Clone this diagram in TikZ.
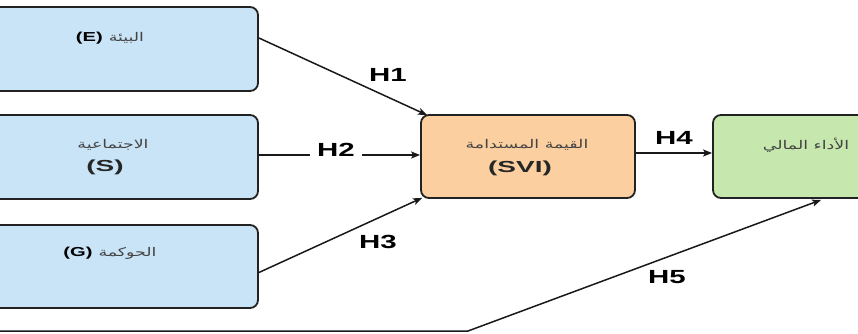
\documentclass[tikz,border=0pt]{standalone}
\usepackage{fontspec}
\setmainfont{Liberation Sans}
\newfontfamily\latinwide[FakeStretch=1.55]{Liberation Sans}
\newfontfamily\latinwider[FakeStretch=1.75]{Liberation Sans}
\newfontfamily\arabicfont[Script=Arabic,FakeStretch=1.45]{DejaVu Sans}
\TeXXeTstate=1
\usetikzlibrary{arrows.meta,calc}

\definecolor{boxline}{HTML}{222222}
\definecolor{boxblue}{HTML}{C9E4F6}
\definecolor{boxorange}{HTML}{FBCF9F}
\definecolor{boxgreen}{HTML}{C6E7AE}
\definecolor{txtgray}{HTML}{444444}

\tikzset{
  box/.style={draw=boxline, line width=1.8pt, rounded corners=8pt, inner sep=0pt},
  bluebox/.style={box, fill=boxblue},
  orangebox/.style={box, fill=boxorange},
  greenbox/.style={box, fill=boxgreen},
  hyp/.style={font=\latinwide\bfseries\fontsize{19}{19}\selectfont, inner sep=1pt},
  artext/.style={font=\arabicfont\fontsize{12}{14}\selectfont, text=txtgray, inner sep=0pt},
  code/.style={font=\latinwider\bfseries\fontsize{16}{16}\selectfont, text=black!85, inner sep=0pt},
  conn/.style={line width=1.5pt, draw=black!90, -{Stealth[length=9pt,width=7pt,inset=2pt]}}
}

\begin{document}
\begin{tikzpicture}[x=1pt,y=-1pt]
\useasboundingbox (0,0) rectangle (858,334);

% dimension boxes (cut by the left edge) and the two outcome boxes
\node[bluebox, minimum width=280pt, minimum height=84pt] (E) at (118,49) {};
\node[bluebox, minimum width=280pt, minimum height=84pt] (S) at (118,157) {};
\node[bluebox, minimum width=280pt, minimum height=83pt] (G) at (118,266.5) {};
\node[orangebox, minimum width=214pt, minimum height=83pt] (SVI) at (528,156.5) {};
\node[greenbox, minimum width=167pt, minimum height=83pt] (GR) at (796.5,156.5) {};

% box texts
\node (Etxt) at (110,38) {{\latinwide\bfseries\fontsize{13}{13}\selectfont (E)}\hspace{6pt}{\arabicfont\fontsize{12}{14}\selectfont\color{txtgray}\beginR البيئة\endR}};
\node[artext] (Sar) at (113,145) {\beginR الاجتماعية\endR};
\node[code] (Scode) at (105,167) {(S)};
\node (Gtxt) at (110,253) {{\latinwide\bfseries\fontsize{13}{13}\selectfont (G)}\hspace{6pt}{\arabicfont\fontsize{12}{14}\selectfont\color{txtgray}\beginR الحوكمة\endR}};
\node[artext] (SVIar) at (527,145) {\beginR القيمة المستدامة\endR};
\node[code] (SVIcode) at (520,168) {(SVI)};
\node[artext] (GRar) at (806,145) {\beginR الأداء المالي\endR};

% hypothesised paths
\draw[conn] ([yshift=11pt]E.east) -- ([xshift=7pt,yshift=-1pt]SVI.north west);
\draw[conn] ([yshift=2pt]S.east) coordinate (s2) -- (s2 -| SVI.west);
\draw[conn] ([yshift=-6pt]G.east) -- ([xshift=2pt,yshift=1pt]SVI.south west);
\draw[conn] ([yshift=3.5pt]SVI.east) coordinate (s4) -- (s4 -| GR.west);
\coordinate (h5start) at (-5,331);
\coordinate (h5bend) at (468,331);
\draw[conn] (h5start) -- (h5bend) -- ([xshift=109pt,yshift=-1pt]GR.south west);

% path labels
\node[hyp] (H1) at (388,75) {H1};
\node[hyp, fill=white, inner xsep=7pt] (H2) at (336,150) {H2};
\node[hyp] (H3) at (378,242) {H3};
\node[hyp] (H4) at (674,138) {H4};
\node[hyp] (H5) at (667,277) {H5};
\end{tikzpicture}
\end{document}
